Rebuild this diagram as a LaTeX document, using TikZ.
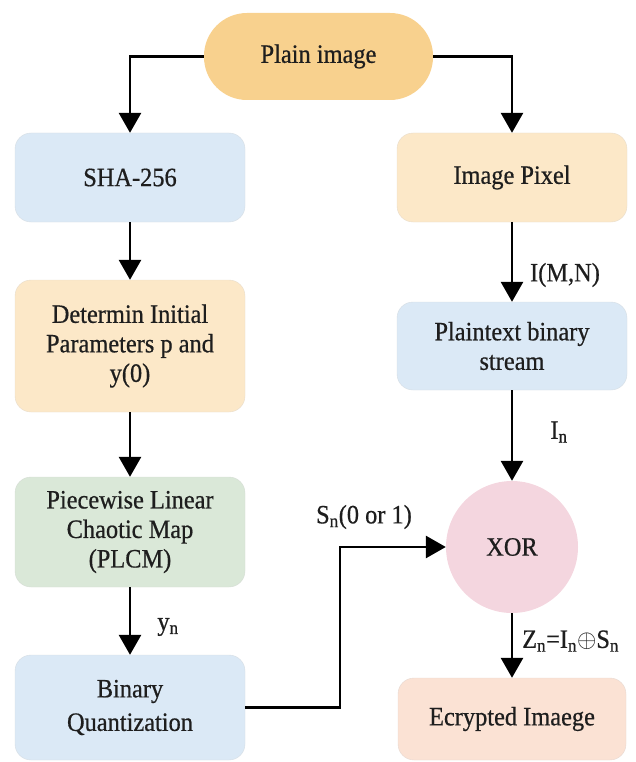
\documentclass[tikz,border=0pt]{standalone}
\usepackage{fontspec}
\setmainfont{Liberation Serif}[FakeBold=0.6,FakeStretch=0.92]
\usetikzlibrary{arrows.meta,calc}

\definecolor{pillfill}{RGB}{248,209,142}
\definecolor{bluefill}{RGB}{219,233,246}
\definecolor{creamfill}{RGB}{252,232,200}
\definecolor{greenfill}{RGB}{218,232,216}
\definecolor{pinkfill}{RGB}{244,214,223}
\definecolor{peachfill}{RGB}{251,226,212}
\definecolor{inkcol}{RGB}{30,30,30}

\tikzset{
  txt/.style={font=\fontsize{26.5}{29.5}\selectfont, text=inkcol},
  boxnode/.style={txt, rectangle, rounded corners=16pt, minimum width=230pt,
    align=center, inner sep=2pt},
  bluebox/.style={boxnode, fill=bluefill, draw=bluefill!85!black!60},
  creambox/.style={boxnode, fill=creamfill, draw=creamfill!85!black!60},
  greenbox/.style={boxnode, fill=greenfill, draw=greenfill!85!black!60},
  peachbox/.style={boxnode, fill=peachfill, draw=peachfill!85!black!60},
  lbl/.style={txt, inner sep=0pt},
  arr/.style={draw=black, line width=2.8pt,
    -{Triangle[length=20pt,width=22pt]}},
}

\begin{document}
\begin{tikzpicture}[x=1pt,y=-1pt]
  \useasboundingbox (0,0) rectangle (635,762);

  % start node
  \node[txt, fill=pillfill, rounded corners=43pt, minimum width=229pt,
        minimum height=87pt] (plain) at (318.5,56.5) {Plain image};

  % left column
  \node[bluebox, minimum height=89pt] (sha) at (130,177.5) {SHA-256};
  \node[creambox, minimum height=132pt] (init) at (130,346)
    {Determin Initial\\Parameters p and\\y(0)};
  \node[greenbox, minimum height=110pt] (plcm) at (130,532)
    {Piecewise Linear\\Chaotic Map\\(PLCM)};
  \node[bluebox, minimum height=105pt] (bin) at (130,707.5)
    {Binary\\[4pt]Quantization};

  % right column
  \node[creambox, minimum height=89pt] (pix) at (512,177.5) {Image Pixel};
  \node[bluebox, minimum height=88pt] (pts) at (512,346)
    {Plaintext binary\\stream};
  \node[txt, circle, fill=pinkfill, minimum size=132pt, inner sep=0pt]
    (xor) at (512,547) {XOR};
  \node[peachbox, minimum width=228pt, minimum height=82pt] (enc) at (512,719)
    {Ecrypted Imaege};

  % connectors
  \draw[arr] (plain.west) -| (sha.north);
  \draw[arr] (plain.east) -| (pix.north);
  \draw[arr] (sha.south) -- (init.north);
  \draw[arr] (init.south) -- (plcm.north);
  \draw[arr] (plcm.south) -- (bin.north);
  \draw[arr] (pix.south) -- (pts.north);
  \draw[arr] (pts.south) -- (xor.north);
  \draw[arr] (xor.south) -- (enc.north);
  \coordinate (turn) at (340,707.5);
  \draw[arr] (bin.east) -- (turn) |- (xor.west);

  % edge labels
  \node[lbl] (lmn) at (565,275) {I(M,N)};
  \node[lbl] (lin) at (559,432) {I\textsubscript{n}};
  \node[lbl] (lsn) at (364,517) {S\textsubscript{n}(0 or 1)};
  \node[lbl] (lyn) at (168,627) {y\textsubscript{n}};
  \node[lbl, anchor=west] (lzn) at (522,641)
    {Z\textsubscript{n}=I\textsubscript{n}$\oplus$S\textsubscript{n}};
\end{tikzpicture}
\end{document}
